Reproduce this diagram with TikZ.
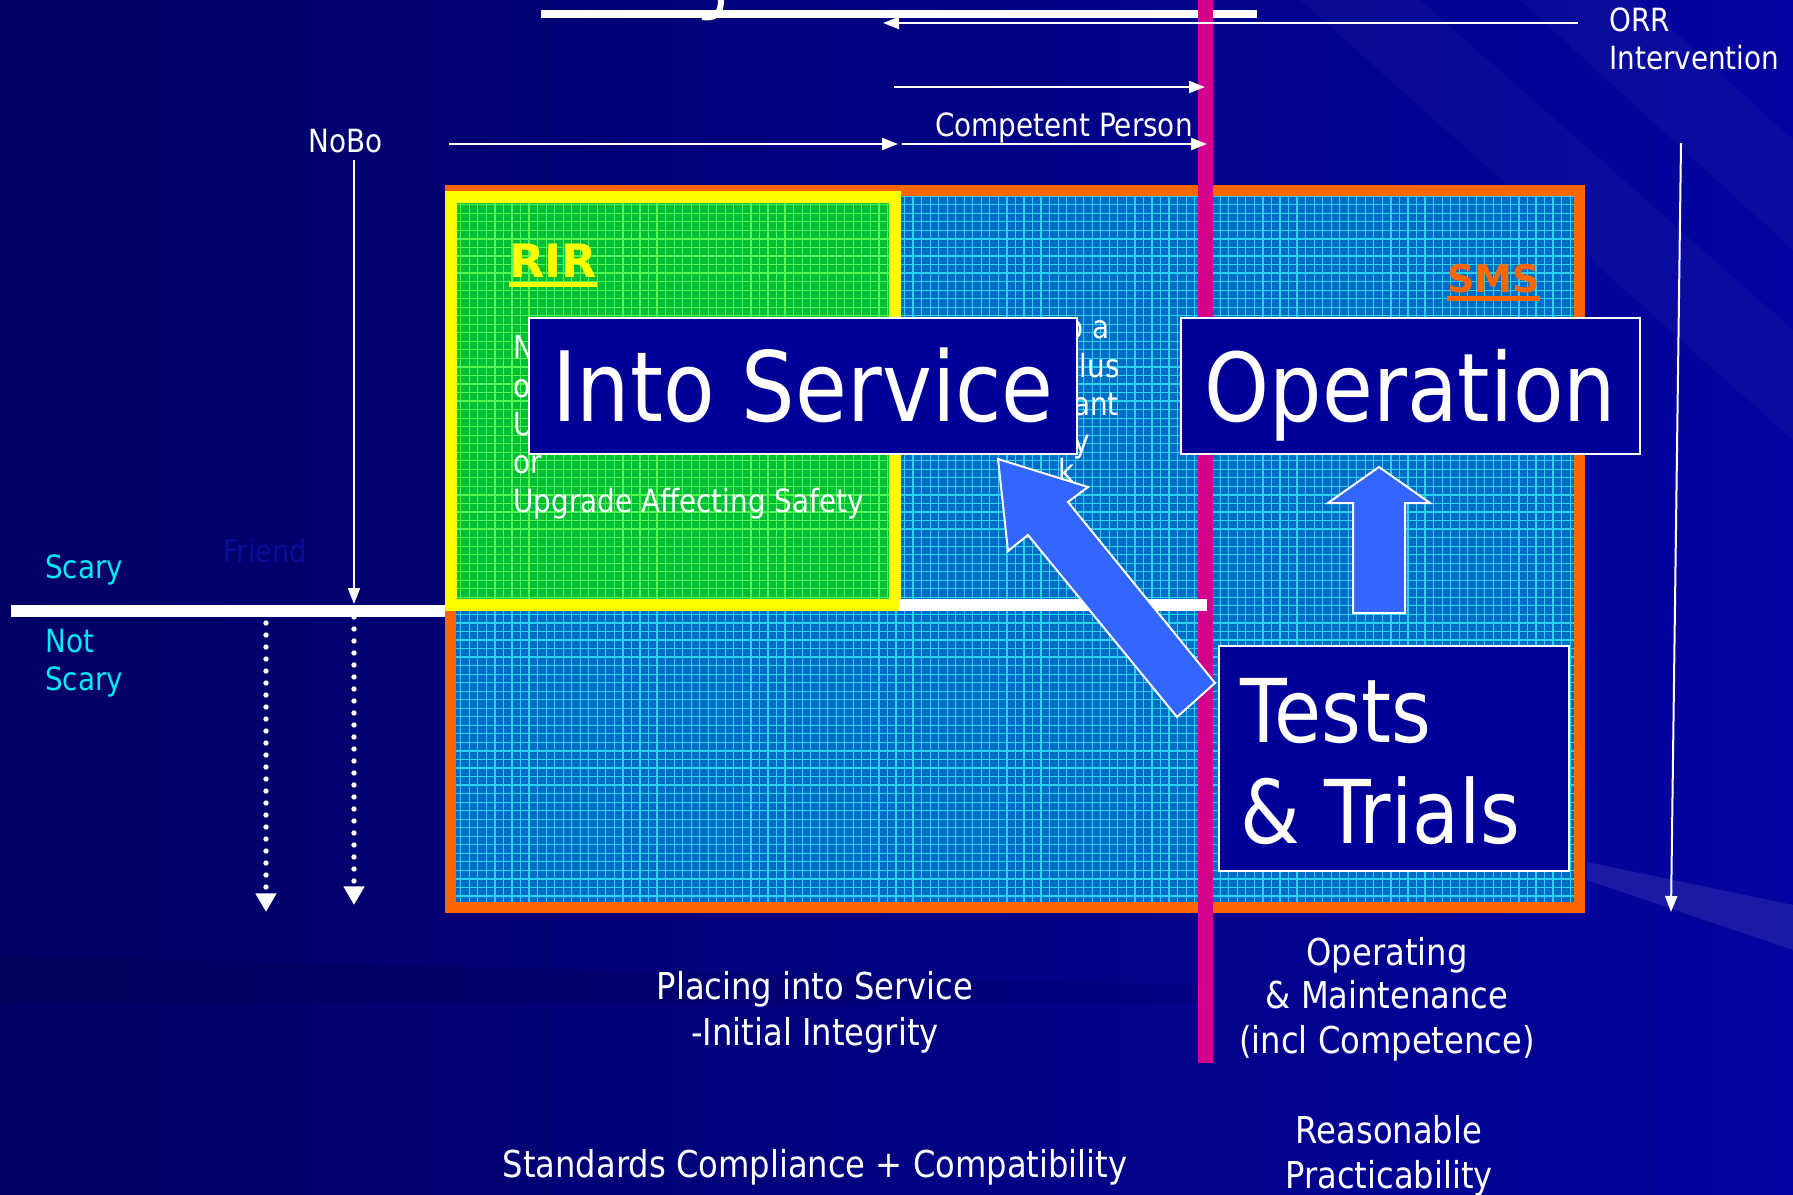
\documentclass[tikz,border=0pt]{standalone}
\usepackage{fontspec}
\setmainfont{DejaVu Sans}[FakeStretch=0.87]
\newfontfamily\boldfam{DejaVu Sans}
\usetikzlibrary{arrows.meta,calc}
\definecolor{bgL}{RGB}{0,0,100}
\definecolor{bgM}{RGB}{0,0,130}
\definecolor{bgR}{RGB}{4,4,160}
\definecolor{orng}{RGB}{255,102,0}
\definecolor{ylw}{RGB}{255,255,0}
\definecolor{magn}{RGB}{212,0,140}
\definecolor{cyantext}{RGB}{0,235,245}
\definecolor{boxblue}{RGB}{0,0,153}
\definecolor{arrowblue}{RGB}{51,102,255}
\definecolor{gridbase}{RGB}{0,108,200}
\definecolor{gridline}{RGB}{40,210,238}
\definecolor{greenbase}{RGB}{0,190,55}
\definecolor{greenline}{RGB}{80,250,80}
\definecolor{friendc}{RGB}{12,12,150}
\begin{document}
\begin{tikzpicture}[x=0.75pt,y=-0.75pt,
  lbl/.style={text=white,inner sep=0pt,font=\fontsize{24}{24}\selectfont},
  bottomlbl/.style={text=white,inner sep=0pt,font=\fontsize{27.75}{27.75}\selectfont},
  scarylbl/.style={text=cyantext,inner sep=0pt,font=\fontsize{24}{24}\selectfont},
  thinarrow/.style={draw=white,line width=1.5pt,-{Triangle[length=12pt,width=9pt]}},
  dotarrow/.style={draw=white,line width=4pt,line cap=round,dash pattern=on 0pt off 9pt,-{Triangle[length=14pt,width=15pt]}},
  titlebox/.style={draw=white,line width=1.5pt,fill=boxblue,text=white,inner sep=0pt},
  blockarrow/.style={fill=arrowblue,draw=white,line width=1.5pt,line join=miter},
  whitebar/.style={draw=white,line width=9pt},
]
\useasboundingbox (0,0) rectangle (1793,1195);
% background
\shade[left color=bgL,middle color=bgM,right color=bgR] (0,0) rectangle (1793,1195);
\fill[white,opacity=0.03] (1300,0) -- (1420,0) -- (1793,330) -- (1793,440) -- cycle;
\fill[white,opacity=0.03] (1520,0) -- (1640,0) -- (1793,140) -- (1793,250) -- cycle;
\fill[white,opacity=0.09] (1587,862) -- (1793,905) -- (1793,950) -- (1587,880) -- cycle;
\fill[black,opacity=0.08] (0,955) -- (1200,985) -- (1200,1005) -- (0,1002) -- cycle;

% title remnant
\fill[white] (541,10) rectangle (1257,18);
\draw[white,line width=4.5pt] (721,0) .. controls (721,14) and (715,19) .. (702,17);

% scary line (left part)
\coordinate (sl1) at (11,611);
\coordinate (sl2) at (447,611);
\draw[whitebar] (sl1) -- (sl2);

% blue grid region
\begin{scope}
\clip (451,190) rectangle (1579,907);
\fill[gridbase] (451,190) rectangle (1579,907);
\draw[gridline,line width=0.9pt,step=6.4pt] (451,907) grid (1579,190);
\end{scope}
\draw[orng,line width=8.25pt] (450.5,190.5) rectangle (1579.5,907);

% green RIR region
\begin{scope}
\clip (450,197) rectangle (895,605);
\fill[greenbase] (450,197) rectangle (895,605);
\draw[greenline,line width=0.9pt,step=6.4pt] (450,605) grid (895,197);
\end{scope}
\draw[ylw,line width=9pt] (450.5,197.5) rectangle (894.5,604.5);

% magenta divider
\coordinate (m1) at (1205,0);
\coordinate (m2) at (1205,1063);
\draw[magn,line width=11.25pt] (m1) -- (m2);

% scary line (right part)
\coordinate (sl3) at (899,605);
\coordinate (sl4) at (1207,605);
\draw[whitebar] (sl3) -- (sl4);

% labels in boxes
\node[text=ylw,inner sep=0pt,anchor=base west,font=\boldfam\bfseries\fontsize{34.5}{34.5}\selectfont] (rir) at (509,277) {RIR};
\fill[ylw] ($(rir.base west)+(0,5)$) rectangle ($(rir.base east)+(0,10)$);
\node[text=orng,inner sep=0pt,anchor=base west,font=\boldfam\bfseries\fontsize{28.5}{28.5}\selectfont] (sms) at (1447,292) {SMS};
\fill[orng] ($(sms.base west)+(0,4)$) rectangle ($(sms.base east)+(0,9)$);

\node[lbl,anchor=base west] (g1) at (513,358) {N};
\node[lbl,anchor=base west] (g2) at (513,397) {o};
\node[lbl,anchor=base west] (g3) at (513,435) {U};
\node[lbl,anchor=base west] (g4) at (513,473) {or};
\node[lbl,anchor=base west] (g5) at (513,512) {Upgrade Affecting Safety};

\node[lbl,anchor=base east] (r1) at (1110,338) {o a};
\node[lbl,anchor=base east] (r2) at (1120,377) {plus};
\node[lbl,anchor=base east] (r3) at (1119,415) {ant};
\node[lbl,anchor=base east] (r4) at (1090,452) {y};
\node[lbl,anchor=base east] (r5) at (1075,482) {k};

% main boxes
\node[titlebox,minimum width=411pt,minimum height=102pt,text height=53pt,text depth=0pt,
      font=\fontsize{72.75}{72.75}\selectfont] (into) at (803,386) {Into Service};
\node[titlebox,minimum width=344.25pt,minimum height=102pt,text height=53pt,text depth=0pt,
      font=\fontsize{71.25}{71.25}\selectfont] (oper) at (1410.5,386) {Operation};
\node[titlebox,minimum width=262.5pt,minimum height=168.75pt] (tests) at (1394,758.5) {};
\node[text=white,inner sep=0pt,anchor=base west,font=\fontsize{66}{66}\selectfont] (tests1) at (1240,742) {Tests};
\node[text=white,inner sep=0pt,anchor=base west,font=\fontsize{66}{66}\selectfont] (tests2) at (1240,843) {\&\ Trials};

% block arrows
\draw[blockarrow] (998,459) -- (1088,487) -- (1068,502) -- (1215,683) -- (1177,717) -- (1028,535) -- (1008,551) -- cycle;
\draw[blockarrow] (1379,467) -- (1430,503) -- (1405,503) -- (1405,613) -- (1353,613) -- (1353,503) -- (1328,503) -- cycle;

% top labels and arrows
\node[lbl,anchor=base west] (nobo) at (308,153) {NoBo};
\node[lbl,anchor=base west] (cp) at (935,137) {Competent Person};
\node[lbl,anchor=base west] (orr1) at (1609,32) {ORR};
\node[lbl,anchor=base west] (orr2) at (1609,70) {Intervention};

\coordinate (o1) at (1578,23);
\coordinate (o2) at (883,23);
\draw[thinarrow] (o1) -- (o2);
\coordinate (a2s) at (894,87);
\coordinate (a2e) at (1205,87);
\draw[thinarrow] (a2s) -- (a2e);
\coordinate (a3s) at (449,144);
\coordinate (a3e) at (898,144);
\draw[thinarrow] (a3s) -- (a3e);
\coordinate (a4s) at (902,144);
\coordinate (a4e) at (1207,144);
\draw[thinarrow] (a4s) -- (a4e);
\coordinate (nb1) at (354,160);
\coordinate (nb2) at (354,604);
\draw[thinarrow] (nb1) -- (nb2);
\coordinate (ov1) at (1681,143);
\coordinate (ov2) at (1671,912);
\draw[thinarrow] (ov1) -- (ov2);

% dotted arrows
\coordinate (d1a) at (266,623);
\coordinate (d1b) at (266,912);
\draw[dotarrow] (d1a) -- (d1b);
\coordinate (d2a) at (354,617);
\coordinate (d2b) at (354,905);
\draw[dotarrow] (d2a) -- (d2b);

% left labels
\node[scarylbl,anchor=base west] (scary) at (45,578) {Scary};
\node[scarylbl,anchor=base west] (not1) at (45,652) {Not};
\node[scarylbl,anchor=base west] (not2) at (45,690) {Scary};
\node[text=friendc,inner sep=0pt,anchor=base west,font=\fontsize{23.5}{23.5}\selectfont] (friend) at (223,562) {Friend};

% bottom labels
\node[bottomlbl,anchor=base] (pl1) at (815,999) {Placing into Service};
\node[bottomlbl,anchor=base] (pl2) at (815,1045) {-Initial Integrity};
\node[bottomlbl,anchor=base] (std) at (815,1177) {Standards Compliance + Compatibility};
\node[bottomlbl,anchor=base] (op1) at (1387,965) {Operating};
\node[bottomlbl,anchor=base] (op2) at (1387,1008) {\&\ Maintenance};
\node[bottomlbl,anchor=base] (op3) at (1387,1053) {(incl Competence)};
\node[bottomlbl,anchor=base] (re1) at (1389,1143) {Reasonable};
\node[bottomlbl,anchor=base] (re2) at (1389,1188) {Practicability};
\end{tikzpicture}
\end{document}
